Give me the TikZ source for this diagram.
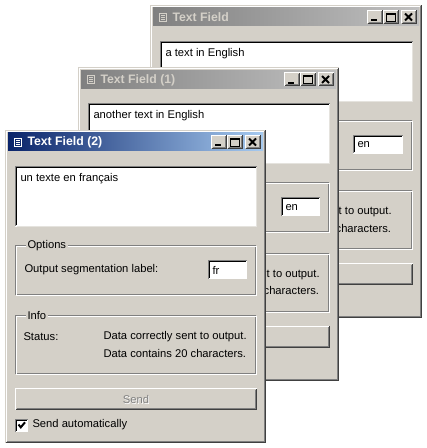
\documentclass[tikz,border=0pt]{standalone}
\usepackage{fontspec}
\setmainfont{Liberation Sans}
\usetikzlibrary{positioning,calc}
\definecolor{winface}{RGB}{212,208,200}
\definecolor{winshadow}{RGB}{128,128,128}
\definecolor{windark}{RGB}{64,64,64}
\definecolor{actleft}{RGB}{10,36,106}
\definecolor{actright}{RGB}{166,202,240}
\definecolor{inactleft}{RGB}{128,128,128}
\definecolor{inactright}{RGB}{192,192,192}

\begin{document}
\begin{tikzpicture}[x=0.75pt, y=-0.75pt, line width=0.75pt,
    guitext/.style={font=\fontsize{8.4}{10}\selectfont, anchor=west, inner sep=0pt},
    titletext/.style={font=\fontsize{9.2}{10}\selectfont\bfseries, anchor=west, inner sep=0pt},
    grouplabel/.style={guitext, fill=winface, inner xsep=1.5pt, inner ysep=1pt},
    sendtext/.style={guitext, anchor=center}
]
\useasboundingbox (0,0) rectangle (426,448);

% Three text field windows, back to front
\foreach \wx/\wy/\ww/\ttl/\txt/\lang/\act [count=\i] in {
    150/5/272/{Text Field}/{a text in English}/en/0,
    78/67.5/261/{Text Field (1)}/{another text in English}/en/0,
    5/130/261/{Text Field (2)}/{un texte en français}/fr/1} {
\begin{scope}[shift={(\wx,\wy)}]
  \ifnum\act=1 \colorlet{tbleft}{actleft}\colorlet{tbright}{actright}\colorlet{tbtext}{white}
  \else \colorlet{tbleft}{inactleft}\colorlet{tbright}{inactright}\colorlet{tbtext}{winface}\fi

  % window frame
  \fill[winface] (0,0) rectangle (\ww,313);
  \draw[white] (1.5,311.5) |- (\ww-1.5,1.5);
  \draw[windark] (0.5,312.5) -| (\ww-0.5,0.5);
  \draw[winshadow] (1.5,311.5) -| (\ww-1.5,1.5);

  % title bar
  \shade[left color=tbleft, right color=tbright] (3,3) rectangle (\ww-3,21);
  \draw[tbtext] (9.5,8.5) rectangle (16.5,16.5);
  \foreach \ly in {10.5,12.5,14.5} \draw[tbtext] (11,\ly) -- (15,\ly);
  \node[titletext, text=tbtext] (title\i) at (22,12.5) {\ttl};
  \foreach \bx in {-55,-39,-21} {
    \fill[winface] (\ww+\bx,5) rectangle (\ww+\bx+16,19);
    \draw[white] (\ww+\bx+0.5,18.5) |- (\ww+\bx+15.5,5.5);
    \draw[windark] (\ww+\bx+0.5,18.5) -| (\ww+\bx+15.5,5.5);
    \draw[winshadow] (\ww+\bx+1.5,17.5) -| (\ww+\bx+14.5,6.5);
  }
  \fill[black] (\ww-51,14.5) rectangle (\ww-45,16.5);
  \draw[black] (\ww-35.5,8.5) rectangle (\ww-26.5,16.5);
  \fill[black] (\ww-35.5,8) rectangle (\ww-26.5,10);
  \draw[black, line width=1.4pt] (\ww-17,8.5) -- (\ww-10,15.5) (\ww-17,15.5) -- (\ww-10,8.5);

  % text area
  \fill[white] (10,36) rectangle (\ww-9,97);
  \draw[winshadow] (10.5,96.5) |- (\ww-9.5,36.5);
  \draw[black] (11.5,95.5) |- (\ww-10.5,37.5);
  \draw[winface!60!white] (11.5,96.5) -| (\ww-9.5,37.5);
  \node[guitext] (entry\i) at (15,48.5) {\txt};

  % options
  \draw[winshadow] (10.5,115.5) rectangle (\ww-10.5,164.5);
  \draw[white] (11.5,116.5) rectangle (\ww-9.5,165.5);
  \fill[white] (203,130) rectangle (\ww-19,149);
  \draw[winshadow] (203.5,148.5) |- (\ww-19.5,130.5);
  \draw[black] (204.5,147.5) |- (\ww-20.5,131.5);
  \draw[white] (204,148.5) -| (\ww-19.5,131);
  \node[guitext] (lang\i) at (207,140) {\lang};

  % info
  \draw[winshadow] (10.5,185.5) rectangle (\ww-10.5,243.5);
  \draw[white] (11.5,186.5) rectangle (\ww-9.5,244.5);
  \node[guitext] (sent\i) at (98,207) {Data correctly sent to output.};
  \node[guitext] (count\i) at (98,223) {Data contains 20 characters.};

  % send button
  \fill[winface] (10,258) rectangle (\ww-9,280);
  \draw[white] (10.5,279.5) |- (\ww-9.5,258.5);
  \draw[windark] (10.5,279.5) -| (\ww-9.5,258.5);
  \draw[winshadow] (11.5,278.5) -| (\ww-10.5,259.5);

  % labels that only the front window shows
  \ifnum\act=1
    \node[grouplabel] (options\i) at (20,115.5) {Options};
    \node[guitext] (seglabel\i) at (19,140) {Output segmentation label:};
    \node[grouplabel] (info\i) at (20,185.5) {Info};
    \node[guitext] (status\i) at (18,207) {Status:};
    \node[sendtext, text=white] (sendshade\i) at ({(\ww+1)/2+0.8},270) {Send};
    \node[sendtext, text=winshadow] (send\i) at ({(\ww+1)/2},269.2) {Send};
    % automatic checkbox
    \fill[white] (10,289) rectangle (23,302);
    \draw[winshadow] (10.5,301.5) |- (22.5,289.5);
    \draw[black] (11.5,300.5) |- (21.5,290.5);
    \draw[black, line width=1.5pt] (13.5,294.5) -- (15.8,297.3) -- (20,292.3);
    \node[guitext] (auto\i) at (27,295) {Send automatically};
  \fi
\end{scope}
}
\end{tikzpicture}
\end{document}
